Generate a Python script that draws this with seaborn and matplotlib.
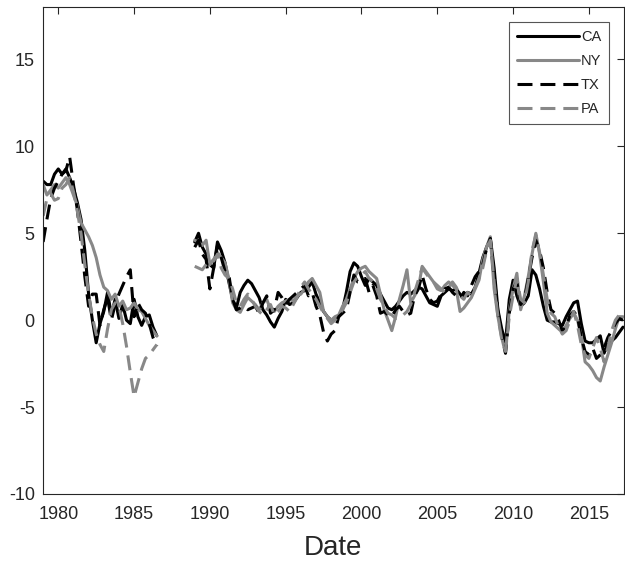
import numpy as np
import pandas as pd
import matplotlib
matplotlib.use("Agg")
import matplotlib.pyplot as plt
import seaborn as sns

# quarterly series, two sample windows (1979Q1-1986Q3, 1989Q1-2017Q2)
states = ["CA", "NY", "TX", "PA"]

ca_early = [8.0, 7.8, 7.8, 8.4, 8.7, 8.4, 8.7, 8.2, 7.6, 6.8, 5.8, 4.0, 1.5, 0.0, -1.3, -0.2,
            0.5, 1.6, 0.3, 1.2, 0.1, 0.9, 0.0, -0.2, 1.2, 0.2, -0.3, 0.2, 0.3, -0.4, -0.9]
ny_early = [7.8, 7.2, 7.5, 7.8, 7.6, 7.9, 8.2, 7.8, 7.2, 6.6, 5.6, 5.2, 4.8, 4.3, 3.6, 2.6,
            1.9, 1.7, 1.2, 1.5, 0.8, 1.1, 0.6, 0.7, 1.0, 0.6, 0.5, 0.1, -0.3, -0.6, -0.9]
tx_early = [4.5, 5.8, 7.0, 7.6, 8.0, 8.4, 8.6, 9.4, 7.8, 6.4, 4.5, 2.5, 0.8, 1.5, 1.5, -0.3,
            0.6, 1.3, 0.0, 0.9, 1.5, 2.0, 2.5, 2.9, 0.2, 1.0, 0.6, 0.4, -0.2, -1.0, -1.5]
pa_early = [6.0, 7.0, 7.3, 6.9, 7.0, 7.6, 7.8, 8.2, 7.4, 6.3, 5.0, 3.2, 1.5, 0.2, -0.8, -1.4,
            -1.8, -0.5, 0.6, 1.0, 0.8, -0.2, -1.5, -3.0, -4.4, -3.6, -2.8, -2.2, -2.0, -1.7, -1.4]

ca_late = [4.5, 5.0, 4.2, 3.8,  3.2, 3.0, 4.5, 4.0,  3.3, 2.2, 1.2, 0.7,  1.6, 2.0, 2.3, 2.1,
           1.7, 1.3, 0.6, 0.3,  -0.1, -0.4, 0.1, 0.5,  1.2, 0.9, 1.0, 1.3,  1.6, 1.7, 1.9, 2.2,
           1.5, 1.0, 0.5, 0.2,  0.0, 0.1, 0.2, 0.6,  1.6, 2.8, 3.3, 3.1,  2.5, 2.0, 2.4, 2.2,
           2.0, 1.5, 1.1, 0.7,  0.6, 0.8, 1.1, 1.4,  1.6, 1.5, 1.7, 1.9,  1.8, 1.4, 1.0, 0.9,
           0.8, 1.4, 1.6, 1.8,  1.7, 1.8, 1.5, 1.3,  1.6, 1.5, 1.9, 2.7,  3.6, 4.2, 4.7, 3.0,
           0.6, -0.5, -1.3, 1.2,  2.3, 1.4, 0.8, 1.0,  1.4, 2.9, 2.6, 1.8,  0.8, 0.0, -0.1, -0.1,
           -0.2, -0.3, 0.2, 0.6,  1.0, 1.1, -0.2, -1.2,  -1.3, -1.3, -1.1, -0.9,  -1.9, -1.4, -1.2, -1.0,
           -0.7, -0.4]
ny_late = [4.6, 4.5, 4.3, 4.6,  3.2, 3.5, 3.9, 3.6,  3.3, 2.4, 1.0, 0.6,  0.45, 0.9, 1.3, 1.1,
           0.9, 0.6, 1.0, 1.2,  0.6, 0.5, 0.8, 1.0,  1.1, 1.2, 1.1, 1.4,  1.5, 1.8, 2.2, 2.4,
           2.0, 1.6, 0.5, 0.2,  0.0, 0.2, 0.3, 0.8,  1.2, 1.8, 2.4, 2.8,  3.0, 3.1, 2.8, 2.6,
           2.4, 1.5, 0.6, 0.0,  -0.6, 0.2, 1.2, 2.0,  2.9, 1.0, 1.4, 1.8,  3.1, 2.8, 2.5, 2.2,
           1.8, 1.7, 2.0, 2.2,  2.0, 1.8, 0.5, 0.7,  1.0, 1.3, 1.8, 2.3,  3.5, 4.2, 4.8, 1.8,
           0.2, -1.0, -1.9, 0.6,  1.8, 2.7, 0.6, 1.4,  2.5, 3.8, 5.0, 3.8,  2.2, 0.4, -0.1, -0.3,
           -0.5, -0.7, -0.3, 0.1,  0.4, 0.0, -0.9, -2.4,  -2.6, -2.9, -3.3, -3.5,  -2.7, -2.0, -1.3, -0.5,
           0.2, 0.2]
tx_late = [4.2, 4.6, 3.8, 3.5,  1.8, 3.0, 4.3, 3.6,  2.8, 2.6, 1.2, 0.6,  0.7, 0.8, 0.6, 0.7,
           0.8, 0.4, 1.0, 1.4,  0.4, 0.6, 1.6, 1.3,  0.9, 1.2, 1.4, 1.6,  1.8, 2.0, 1.4, 1.6,
           0.8, 0.3, -0.7, -1.2,  -0.8, -0.6, 0.2, 0.4,  0.6, 1.6, 2.6, 2.2,  2.2, 2.4, 1.6, 2.0,
           1.4, 0.4, 0.5, 0.3,  0.2, 0.6, 0.8, 0.5,  0.3, 0.4, 1.4, 1.8,  2.6, 1.8, 1.2, 1.0,
           1.1, 1.5, 1.8, 1.9,  1.6, 1.4, 1.2, 1.6,  1.4, 2.0, 2.5, 2.8,  3.2, 4.1, 4.7, 2.5,
           0.5, -0.8, -1.9, 0.4,  1.8, 2.2, 0.9, 1.2,  2.4, 3.6, 4.6, 4.0,  3.0, 1.6, 0.6, 0.4,
           0.0, -0.6, -0.4, 0.3,  0.5, 0.2, -1.0, -1.8,  -2.0, -1.6, -2.2, -2.0,  -1.6, -1.0, -0.6, -0.2,
           0.1, 0.0]
pa_late = [3.1, 3.0, 2.9, 3.2,  3.5, 3.4, 3.8, 3.0,  2.6, 2.4, 1.8, 1.0,  0.8, 1.2, 1.5, 1.2,
           0.8, 0.5, 0.3, 0.6,  0.9, 0.3, 0.5, 0.8,  0.7, 0.5, 0.9, 1.3,  1.9, 2.2, 1.8, 1.5,
           1.2, 0.8, 0.4, 0.1,  -0.2, 0.0, 0.3, 0.6,  1.0, 1.6, 2.2, 2.5,  2.6, 2.8, 2.4, 2.2,
           1.8, 1.2, 0.8, 0.4,  0.3, 0.1, 0.2, 0.3,  0.5, 0.9, 1.6, 2.3,  3.0, 2.7, 2.4, 2.2,
           2.0, 1.8, 1.6, 1.9,  2.2, 1.9, 1.4, 1.2,  1.6, 1.4, 1.9, 2.4,  3.0, 4.0, 4.6, 2.2,
           0.2, -1.1, -1.8, 0.2,  1.4, 2.4, 1.2, 1.0,  2.2, 4.0, 4.9, 3.9,  2.6, 1.2, 0.4, 0.2,
           -0.4, -0.8, -0.6, 0.0,  0.5, -0.3, -1.4, -2.0,  -2.2, -1.6, -1.0, -1.6,  -2.4, -1.6, -0.6, 0.0,
           0.3, 0.1]

dates_early = 1979 + 0.25 * np.arange(len(ca_early))
dates_late = 1989 + 0.25 * np.arange(len(ca_late))

frames = []
for st, early, late in zip(states,
                           [ca_early, ny_early, tx_early, pa_early],
                           [ca_late, ny_late, tx_late, pa_late]):
    frames.append(pd.DataFrame({"Date": dates_early, "value": early, "state": st, "seg": 0}))
    frames.append(pd.DataFrame({"Date": dates_late, "value": late, "state": st, "seg": 1}))
df = pd.concat(frames, ignore_index=True)

sns.set_theme(style="white")
plt.rcParams["font.family"] = ["Liberation Sans", "DejaVu Sans"]
plt.rcParams["axes.unicode_minus"] = False
axcol = "#262626"

fig = plt.figure(figsize=(6.25, 5.62), dpi=100)
ax = fig.add_axes([0.069, 0.121, 0.929, 0.866])

gray = "#888888"
palette = {"CA": "black", "NY": gray, "TX": "black", "PA": gray}
dash = (4.9, 2.6)
dashes = {"CA": "", "NY": "", "TX": dash, "PA": dash}

sns.lineplot(data=df, x="Date", y="value", hue="state", style="state",
             units="seg", estimator=None, hue_order=states, style_order=states,
             palette=palette, dashes=dashes, lw=2.2, ax=ax)

old = ax.get_legend()
handles = old.legend_handles
labels = [t.get_text() for t in old.get_texts()]
old.remove()
for h in handles:
    h.set_linewidth(2.2)
leg = ax.legend(handles, labels, loc="upper right", fontsize=10.5,
                handlelength=4.2, handletextpad=0.15, labelspacing=0.68,
                borderpad=0.55, borderaxespad=1.0, fancybox=False, framealpha=1)
leg.get_frame().set_edgecolor("#555555")
leg.get_frame().set_linewidth(0.8)

ax.set_xlim(1979, 2017.3)
ax.set_ylim(-10, 18)
ax.set_xticks(np.arange(1980, 2016, 5))
ax.set_yticks(np.arange(-10, 16, 5))
ax.set_xlabel("Date", fontsize=20, color=axcol, labelpad=8)
ax.set_ylabel("")
ax.tick_params(direction="in", top=True, right=True, length=5, width=0.8,
               color=axcol, labelcolor=axcol, labelsize=13)
ax.tick_params(axis="x", pad=9)
ax.tick_params(axis="y", pad=6)
for sp in ax.spines.values():
    sp.set_visible(True)
    sp.set_color(axcol)
    sp.set_linewidth(0.8)

fig.savefig("out.png", dpi=100)
